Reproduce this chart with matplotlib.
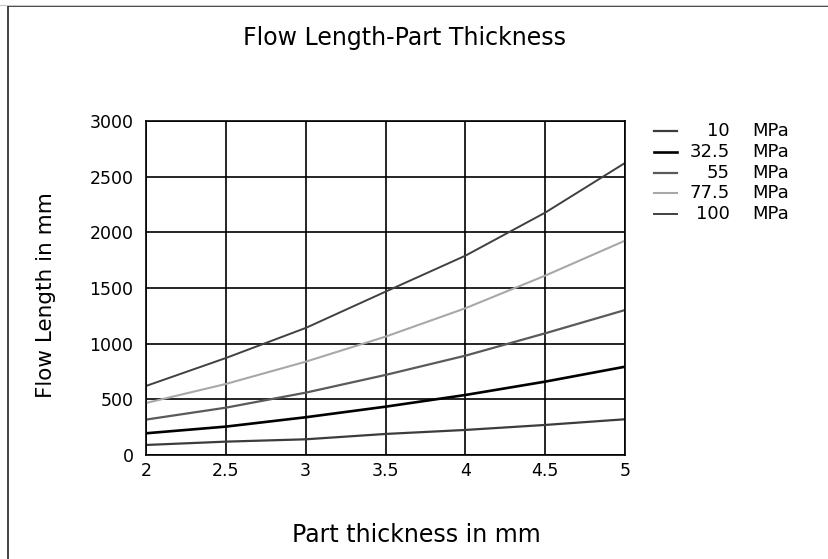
import matplotlib
matplotlib.use("Agg")
import matplotlib.pyplot as plt
from matplotlib.lines import Line2D
from matplotlib.patches import Rectangle

plt.rcParams['font.family'] = ['DejaVu Sans']

thickness = [2, 2.5, 3, 3.5, 4, 4.5, 5]
pressures = ["10", "32.5", "55", "77.5", "100"]
flow_10 = [90, 120, 141, 189, 225, 270, 321]
flow_32_5 = [195, 255, 339, 434, 539, 659, 793]
flow_55 = [318, 425, 560, 719, 892, 1093, 1302]
flow_77_5 = [467, 638, 838, 1063, 1318, 1611, 1925]
flow_100 = [620, 871, 1141, 1467, 1790, 2177, 2623]
series = [flow_10, flow_32_5, flow_55, flow_77_5, flow_100]
colors = ["#3c3c3c", "#000000", "#5a5a5a", "#a8a8a8", "#404040"]
widths = [1.6, 1.9, 1.6, 1.5, 1.4]
x_ticks = [2, 2.5, 3, 3.5, 4, 4.5, 5]
y_ticks = [0, 500, 1000, 1500, 2000, 2500, 3000]

W, H = 829, 559
fig = plt.figure(figsize=(W / 100, H / 100), dpi=100)
fig.patch.set_facecolor("white")

# window-like frame
fig.add_artist(Line2D([0, 1], [1 - 4.5 / H, 1 - 4.5 / H], transform=fig.transFigure,
                      color="#c8c8c8", linewidth=0.8))
fig.patches.append(Rectangle((8 / W, -0.1), 1.2, (559 - 6) / H + 0.1, transform=fig.transFigure,
                             fill=False, edgecolor="#222222", linewidth=1.2))

left, right, top, bottom = 146, 625, 121, 455
ax = fig.add_axes([left / W, 1 - bottom / H, (right - left) / W, (bottom - top) / H])

for ys, c, lw in zip(series, colors, widths):
    ax.plot(thickness, ys, color=c, linewidth=lw, solid_capstyle="butt")

ax.set_xlim(2, 5)
ax.set_ylim(0, 3000)
ax.set_xticks(x_ticks)
ax.set_xticklabels([f"{t:g}" for t in x_ticks])
ax.set_yticks(y_ticks)
ax.grid(True, color="black", linewidth=1.2)
ax.set_axisbelow(True)
for s in ax.spines.values():
    s.set_color("black")
    s.set_linewidth(1.2)
ax.tick_params(length=0, labelsize=12.5)
ax.tick_params(axis="y", pad=9)
ax.tick_params(axis="x", pad=5)

fig.text(405 / W, 1 - 45 / H, "Flow Length-Part Thickness", ha="center", va="baseline", fontsize=17)
fig.text(416 / W, 1 - 542 / H, "Part thickness in mm", ha="center", va="baseline", fontsize=17)
fig.text(46 / W, 1 - 295 / H, "Flow Length in mm", ha="center", va="center", rotation=90, fontsize=15.5)

# legend
row_y = [131, 152, 173, 193, 214]
for p, c, lw, yy in zip(pressures, colors, widths, row_y):
    fy = 1 - yy / H
    fig.add_artist(Line2D([654 / W, 677 / W], [fy, fy], transform=fig.transFigure, color=c, linewidth=lw))
    fig.text(730 / W, fy, p, ha="right", va="center", fontsize=13)
    fig.text(752 / W, fy, "MPa", ha="left", va="center", fontsize=13)

fig.savefig("out.png", dpi=100)
